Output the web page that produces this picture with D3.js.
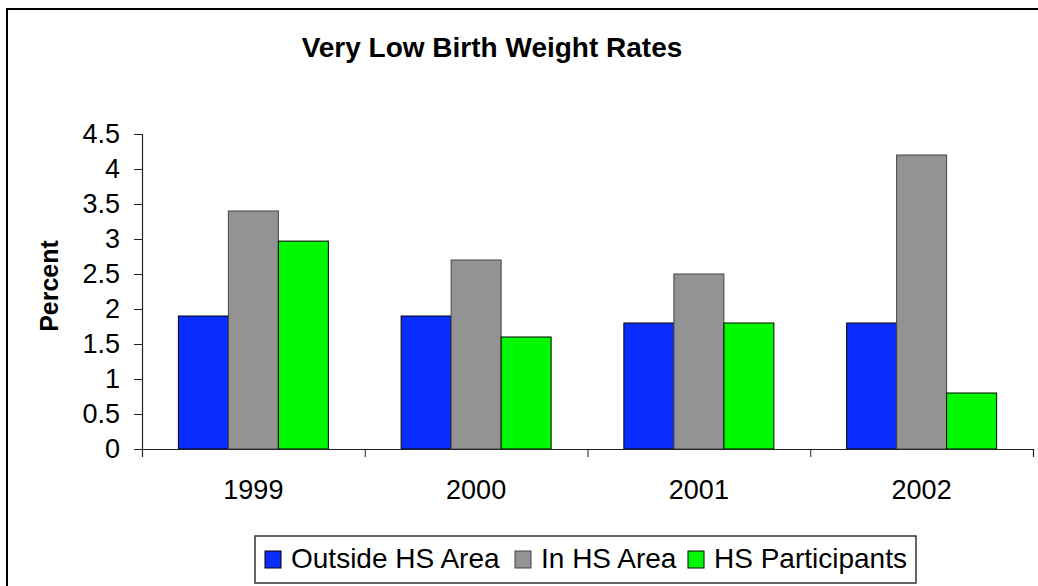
<!DOCTYPE html>
<html>
<head>
<meta charset="utf-8">
<script src="https://cdn.jsdelivr.net/npm/d3@7"></script>
<style>
  body { margin: 0; background: #fff; }
  svg { display: block; font-family: "Liberation Sans", Arial, sans-serif; }
</style>
</head>
<body>
<div id="chart"></div>
<script>
// data
var years = ["1999", "2000", "2001", "2002"];
var seriesNames = ["Outside HS Area", "In HS Area", "HS Participants"];
var outsideHS = [1.9, 1.9, 1.8, 1.8];
var inHS = [3.4, 2.7, 2.5, 4.2];
var participants = [2.97, 1.6, 1.8, 0.8];
var yTicks = [0, 0.5, 1, 1.5, 2, 2.5, 3, 3.5, 4, 4.5];

var colors = ["#0a2dff", "#939393", "#00f800"];
var strokes = ["#000", "#444", "#000"];

var W = 1038, H = 586;
var plotLeft = 142, plotRight = 1033, plotTop = 134, plotBottom = 449;

var rows = years.map(function(yr, i) {
    return { year: yr, values: [outsideHS[i], inHS[i], participants[i]] };
});

var svg = d3.select("#chart").append("svg")
    .attr("width", W)
    .attr("height", H);

// frame (only top and left edges are visible in the picture)
svg.append("path")
    .attr("d", "M7," + H + "V9H" + W)
    .attr("fill", "none")
    .attr("stroke", "#000")
    .attr("stroke-width", 2);

svg.append("text")
    .attr("x", 492)
    .attr("y", 57)
    .attr("text-anchor", "middle")
    .style("font-size", "28px")
    .style("font-weight", "bold")
    .text("Very Low Birth Weight Rates");

var x0 = d3.scaleBand()
    .domain(years)
    .range([plotLeft, plotRight]);

var x1 = d3.scaleBand()
    .domain(d3.range(seriesNames.length))
    .range([0, x0.bandwidth()])
    .paddingOuter(0.7275);

var y = d3.scaleLinear()
    .domain([0, 4.5])
    .range([plotBottom, plotTop]);

// bars
var groups = svg.selectAll("g.year")
    .data(rows)
    .enter().append("g")
    .attr("class", "year")
    .attr("transform", function(d) { return "translate(" + x0(d.year) + ",0)"; });

groups.selectAll("rect")
    .data(function(d) { return d.values; })
    .enter().append("rect")
    .attr("x", function(d, i) { return x1(i); })
    .attr("y", function(d) { return y(d); })
    .attr("width", x1.bandwidth())
    .attr("height", function(d) { return y(0) - y(d); })
    .attr("fill", function(d, i) { return colors[i]; })
    .attr("stroke", function(d, i) { return strokes[i]; })
    .attr("stroke-width", 1);

// y axis
var yAxis = svg.append("g")
    .attr("transform", "translate(" + plotLeft + ",0)")
    .call(d3.axisLeft(y).tickValues(yTicks).tickSize(8).tickPadding(14).tickFormat(d3.format("")));
yAxis.select(".domain").attr("stroke", "#222").attr("stroke-width", 1.2);
yAxis.selectAll(".tick line").attr("stroke", "#222");
yAxis.selectAll(".tick text")
    .style("font-size", "27px")
    .attr("fill", "#000");

// x axis: ticks sit on the category boundaries
var xEdge = d3.scaleLinear().domain([0, years.length]).range([plotLeft, plotRight]);
var xAxis = svg.append("g")
    .attr("transform", "translate(0," + plotBottom + ")")
    .call(d3.axisBottom(xEdge).tickValues(d3.range(years.length + 1)).tickSize(8).tickFormat(""));
xAxis.select(".domain").attr("stroke", "#222").attr("stroke-width", 1.2);
xAxis.selectAll(".tick line").attr("stroke", "#222");

svg.selectAll("text.xlab")
    .data(years)
    .enter().append("text")
    .attr("class", "xlab")
    .attr("x", function(d) { return x0(d) + x0.bandwidth() / 2; })
    .attr("y", 499)
    .attr("text-anchor", "middle")
    .style("font-size", "27px")
    .text(function(d) { return d; });

svg.append("text")
    .attr("transform", "translate(58,286) rotate(-90)")
    .attr("text-anchor", "middle")
    .style("font-size", "25px")
    .style("font-weight", "bold")
    .text("Percent");

// legend
var legend = svg.append("g").attr("transform", "translate(255,536)");
legend.append("rect")
    .attr("width", 661)
    .attr("height", 47)
    .attr("fill", "#fff")
    .attr("stroke", "#333")
    .attr("stroke-width", 1.5);

var legendX = [10, 260, 433];
var items = legend.selectAll("g.item")
    .data(seriesNames)
    .enter().append("g")
    .attr("class", "item")
    .attr("transform", function(d, i) { return "translate(" + legendX[i] + ",0)"; });
items.append("rect")
    .attr("y", 15)
    .attr("width", 16)
    .attr("height", 17)
    .attr("fill", function(d, i) { return colors[i]; })
    .attr("stroke", function(d, i) { return strokes[i]; });
items.append("text")
    .attr("x", 26)
    .attr("y", 32)
    .style("font-size", "28px")
    .text(function(d) { return d; });
</script>
</body>
</html>
